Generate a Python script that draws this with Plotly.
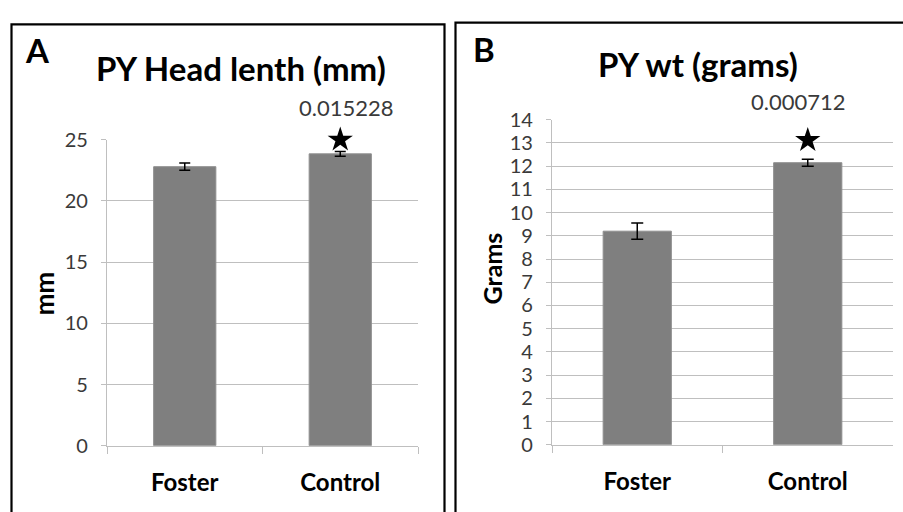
import plotly.graph_objects as go

# ---- data ----
categories = ["Foster", "Control"]
head_len_mm = [22.8, 23.85]
head_len_err = [0.3, 0.2]
head_star_y = [25.0]
head_p = "0.015228"

wt_grams = [9.2, 12.15]
wt_err = [0.35, 0.15]
wt_star_y = [13.12]
wt_p = "0.000712"

head_ticks = [0, 5, 10, 15, 20, 25]
wt_ticks = list(range(0, 15))

W, H = 903, 512
def px(x):
    return x / W
def py(y):
    return 1 - y / H

FONT = "Lato"
BAR = "#7f7f7f"
GRID = "#bfbfbf"
TXT = "#3a3a3a"

fig = go.Figure()

fig.add_trace(go.Bar(
    x=categories, y=head_len_mm, xaxis="x", yaxis="y",
    marker=dict(color=BAR, line=dict(color="#8f8f8f", width=1)),
    error_y=dict(type="data", array=head_len_err, color="black", thickness=1.5, width=5.5),
    showlegend=False, hoverinfo="skip"))
fig.add_trace(go.Scatter(
    x=[categories[1]], y=head_star_y, xaxis="x", yaxis="y", mode="markers", cliponaxis=False,
    marker=dict(symbol="star", size=19, color="black"), showlegend=False, hoverinfo="skip"))

fig.add_trace(go.Bar(
    x=categories, y=wt_grams, xaxis="x2", yaxis="y2",
    marker=dict(color=BAR, line=dict(color="#8f8f8f", width=1)),
    error_y=dict(type="data", array=wt_err, color="black", thickness=1.5, width=6),
    showlegend=False, hoverinfo="skip"))
fig.add_trace(go.Scatter(
    x=[categories[1]], y=wt_star_y, xaxis="x2", yaxis="y2", mode="markers", cliponaxis=False,
    marker=dict(symbol="star", size=19, color="black"), showlegend=False, hoverinfo="skip"))

xcommon = dict(type="category", showgrid=False, showline=True, linecolor=GRID, linewidth=1.2,
               ticks="outside", tickson="boundaries", ticklen=7, tickcolor=GRID, tickwidth=1.2,
               tickfont=dict(family=FONT, size=24, color="black", weight="bold"),
               ticklabelstandoff=15, fixedrange=True)
ycommon = dict(showgrid=True, gridcolor=GRID, gridwidth=1.2, showline=True, linecolor=GRID,
               linewidth=1.2, ticks="outside", ticklen=5, tickcolor=GRID, tickwidth=1.2,
               tickfont=dict(family=FONT, size=20, color=TXT), ticklabelstandoff=9,
               zeroline=False, fixedrange=True)

fig.update_layout(
    width=W, height=H, margin=dict(l=0, r=0, t=0, b=0),
    paper_bgcolor="white", plot_bgcolor="white", bargap=0.6,
    xaxis=dict(domain=[px(107), px(418)], anchor="y", **xcommon),
    yaxis=dict(domain=[py(454), py(133)], anchor="x", range=[0, 25],
               tickvals=head_ticks, **ycommon),
    xaxis2=dict(domain=[px(552), px(893)], anchor="y2", **xcommon),
    yaxis2=dict(domain=[py(453), py(112)], anchor="x2", range=[0, 14],
                tickvals=wt_ticks, **ycommon),
)

# panel borders
fig.add_shape(type="rect", xref="paper", yref="paper",
              x0=px(11.5), x1=px(444.5), y0=-0.1, y1=py(12),
              line=dict(color="black", width=2.2))
fig.add_shape(type="rect", xref="paper", yref="paper",
              x0=px(455.5), x1=1.2, y0=-0.1, y1=py(10),
              line=dict(color="black", width=2.2))

def ann(text, x, y, size, bold=False, color="black", angle=0, dx=0, dy=-5):
    fig.add_annotation(text=text, xref="paper", yref="paper", x=px(x + dx), y=py(y + dy),
                       xanchor="center", yanchor="middle", showarrow=False, textangle=angle,
                       font=dict(family=FONT, size=size, color=color,
                                 weight="bold" if bold else "normal"))

ann("A", 37, 44, 33, bold=True)
ann("B", 484, 43, 33, bold=True)
ann("PY Head lenth (mm)", 241, 63, 33, bold=True)
ann("PY wt (grams)", 698, 58, 33, bold=True)
ann(head_p, 346, 104, 22, color=TXT)
ann(wt_p, 798, 98, 22, color=TXT)
ann("mm", 46, 294, 26, bold=True, angle=-90, dx=-2, dy=0)
ann("Grams", 493, 268, 25, bold=True, angle=-90, dx=-1, dy=0)

fig.write_html("out.html", config={"displayModeBar": False},
               post_script="document.body.style.margin='0px';document.body.style.overflow='hidden';")
